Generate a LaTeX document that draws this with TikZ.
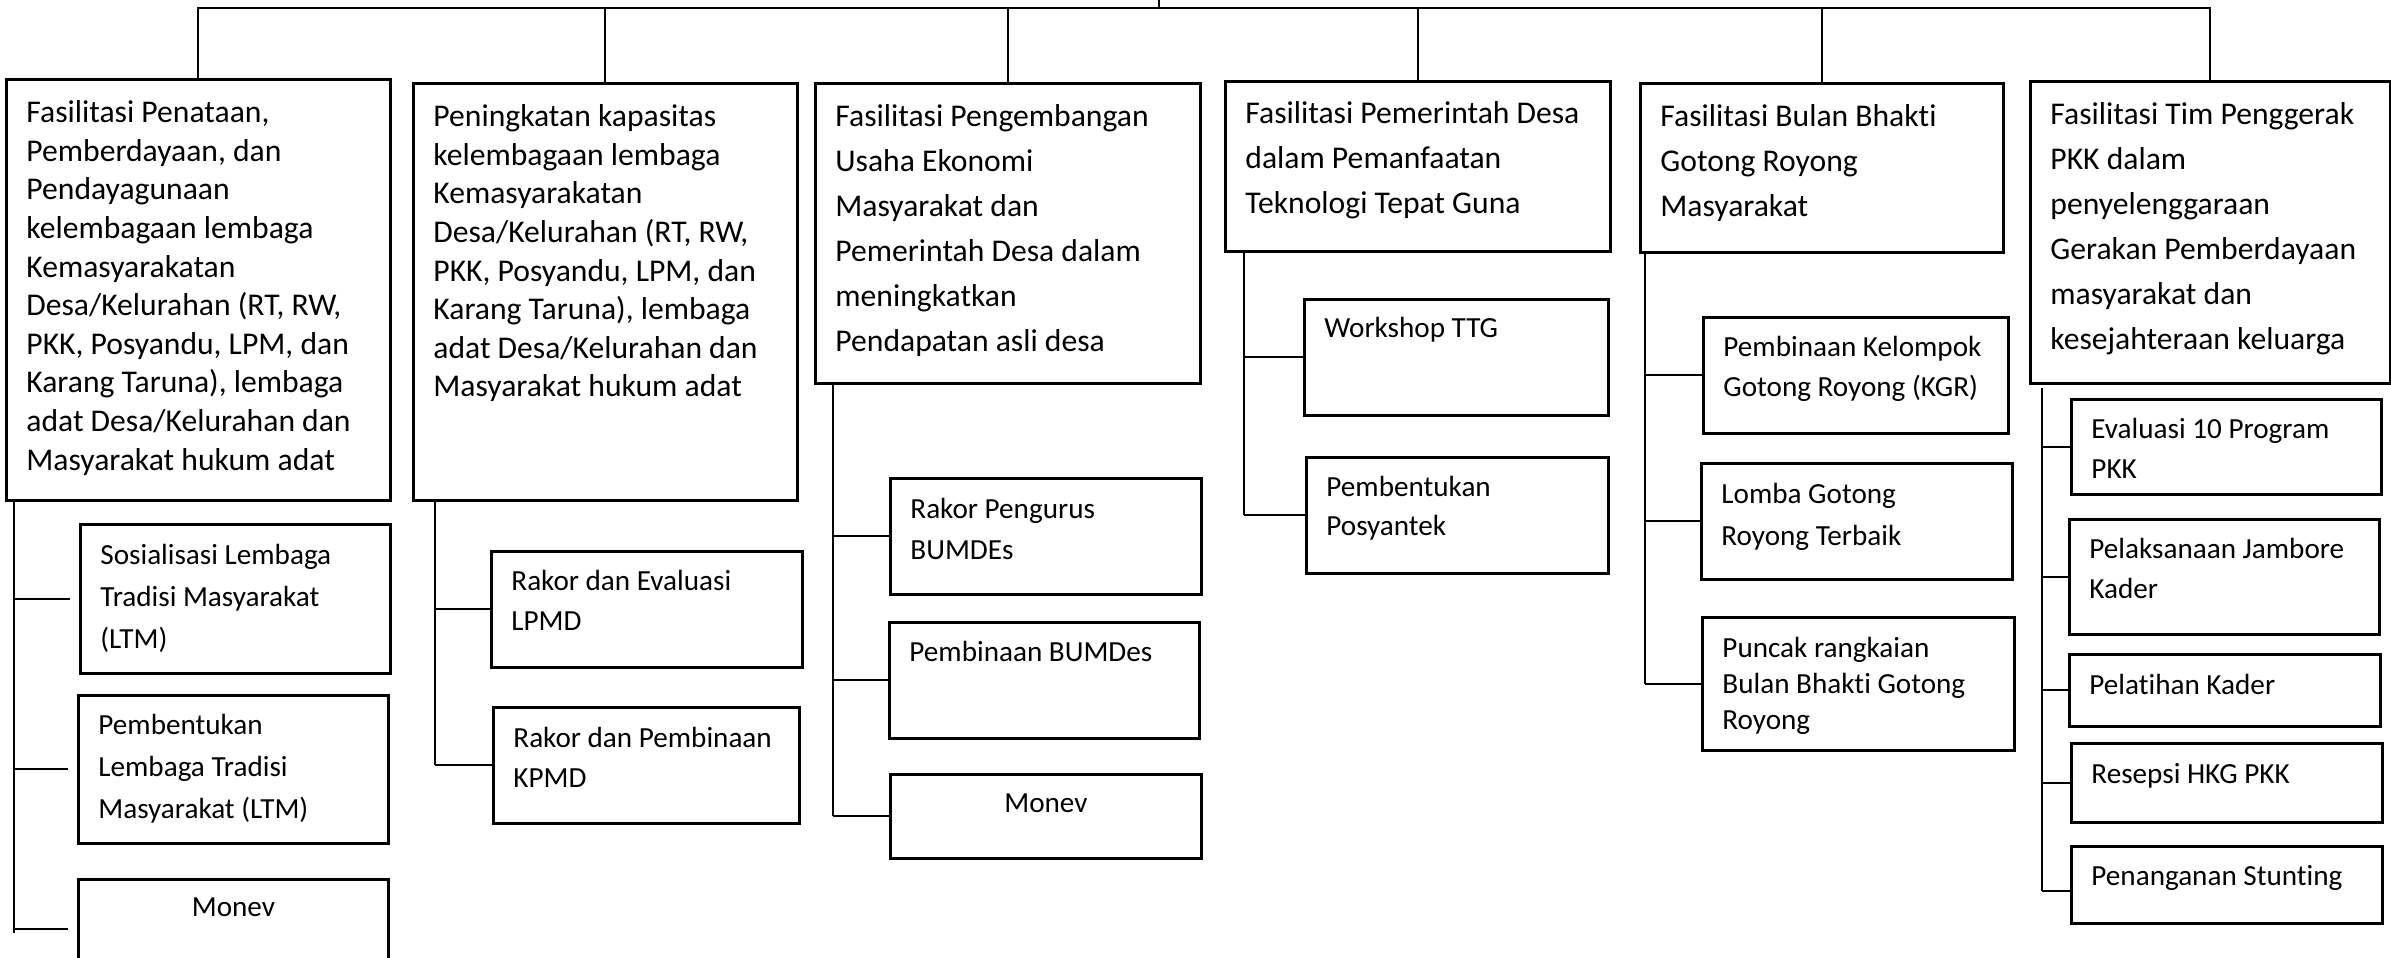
\documentclass[tikz,border=0pt]{standalone}
\usepackage{fontspec}
\setmainfont{Carlito}[Ligatures=NoCommon]
\newlength\pxl
\setlength\pxl{0.1mm}
% box of given width/height (px), top gap, text
\newcommand{\boxtext}[4]{\parbox[c][#2\pxl][t]{#1\pxl}{\raggedright\leftskip=20\pxl\vspace*{#3\pxl}#4}}
\begin{document}
\begin{tikzpicture}[x=0.1mm,y=-0.1mm,
		box/.style={draw,line width=0.8pt,anchor=north west,inner sep=0pt},
		headbox/.style={box,font=\fontsize{9}{#1}\selectfont},
		itembox/.style={box,font=\fontsize{8.3}{#1}\selectfont},
		link/.style={line width=0.6pt}]
		\useasboundingbox (0,0) rectangle (2391,958);
		\clip (0,0) rectangle (2391,958);
		% program boxes
		\node[headbox=11] (b1) at (5,78) {\boxtext{384}{421}{21}{Fasilitasi Penataan,\\Pemberdayaan, dan\\Pendayagunaan\\kelembagaan lembaga\\Kemasyarakatan\\Desa/Kelurahan (RT, RW,\\PKK, Posyandu, LPM, dan\\Karang Taruna), lembaga\\adat Desa/Kelurahan dan\\Masyarakat hukum adat}};
		\node[headbox=11] (b2) at (412,82) {\boxtext{384}{417}{21}{Peningkatan kapasitas\\kelembagaan lembaga\\Kemasyarakatan\\Desa/Kelurahan (RT, RW,\\PKK, Posyandu, LPM, dan\\Karang Taruna), lembaga\\adat Desa/Kelurahan dan\\Masyarakat hukum adat}};
		\node[headbox=12.8] (b3) at (814,82) {\boxtext{385}{300}{21}{Fasilitasi Pengembangan\\Usaha Ekonomi\\Masyarakat dan\\Pemerintah Desa dalam\\meningkatkan\\Pendapatan asli desa}};
		\node[headbox=12.8] (b4) at (1224,80) {\boxtext{385}{170}{20}{Fasilitasi Pemerintah Desa\\dalam Pemanfaatan\\Teknologi Tepat Guna}};
		\node[headbox=12.8] (b5) at (1639,82) {\boxtext{363}{169}{21}{Fasilitasi Bulan Bhakti\\Gotong Royong\\Masyarakat}};
		\node[headbox=12.8] (b6) at (2029,80) {\boxtext{360}{302}{21}{Fasilitasi Tim Penggerak\\PKK dalam\\penyelenggaraan\\Gerakan Pemberdayaan\\masyarakat dan\\kesejahteraan keluarga}};
		% activity boxes
		\node[itembox=11.9] (c11) at (79,523) {\boxtext{310}{149}{20}{Sosialisasi Lembaga\\Tradisi Masyarakat\\(LTM)}};
		\node[itembox=11.9] (c12) at (77,694) {\boxtext{310}{148}{19}{Pembentukan\\Lembaga Tradisi\\Masyarakat (LTM)}};
		\node[itembox=11.9] (c13) at (77,878) {\boxtext{310}{100}{18}{\centering Monev}};
		\node[itembox=11.4] (c21) at (490,550) {\boxtext{311}{116}{19}{Rakor dan Evaluasi\\LPMD}};
		\node[itembox=11.4] (c22) at (492,706) {\boxtext{306}{116}{20}{Rakor dan Pembinaan\\KPMD}};
		\node[itembox=11.6] (c31) at (889,477) {\boxtext{311}{116}{20}{Rakor Pengurus\\BUMDEs}};
		\node[itembox=11.6] (c32) at (888,621) {\boxtext{310}{116}{19}{Pembinaan BUMDes}};
		\node[itembox=11.6] (c33) at (889,773) {\boxtext{311}{84}{19}{\centering Monev}};
		\node[itembox=11.1] (c41) at (1303,298) {\boxtext{304}{116}{18}{Workshop TTG}};
		\node[itembox=11.1] (c42) at (1305,456) {\boxtext{302}{116}{19}{Pembentukan\\Posyantek}};
		\node[itembox=11.4] (c51) at (1702,316) {\boxtext{305}{116}{19}{Pembinaan Kelompok\\Gotong Royong (KGR)}};
		\node[itembox=11.9] (c52) at (1700,462) {\boxtext{311}{116}{20}{Lomba Gotong\\Royong Terbaik}};
		\node[itembox=10.2] (c53) at (1701,616) {\boxtext{312}{133}{20}{Puncak rangkaian\\Bulan Bhakti Gotong\\Royong}};
		\node[itembox=11.4] (c61) at (2070,398) {\boxtext{310}{95}{19}{Evaluasi 10 Program\\PKK}};
		\node[itembox=11.4] (c62) at (2068,518) {\boxtext{310}{115}{19}{Pelaksanaan Jambore\\Kader}};
		\node[itembox=11.4] (c63) at (2068,653) {\boxtext{311}{72}{20}{Pelatihan Kader}};
		\node[itembox=11.4] (c64) at (2070,742) {\boxtext{311}{79}{20}{Resepsi HKG PKK}};
		\node[itembox=11.4] (c65) at (2070,845) {\boxtext{311}{77}{19}{Penanganan Stunting}};
		% top bar
		\coordinate (root) at (1159,0);
		\coordinate (bar) at (1159,8);
		\draw[link] (root) -- (bar);
		\draw[link] (b1.north) |- (bar) -| (b6.north);
		\foreach \b in {b2,b3,b4,b5}
		\draw[link] (\b.north) -- (\b.north |- bar);
		% branches
		\coordinate (s1) at ([shift={(9,0)}]b1.south west);
		\draw[link] (s1) -- ([shift={(0,4)}]s1 |- c13.west);
		\foreach \c in {c11,c12,c13}
		\draw[link] (s1 |- \c.west) -- ([shift={(-9,0)}]\c.west);
		\coordinate (s2) at ([shift={(23,0)}]b2.south west);
		\draw[link] (s2) -- (s2 |- c22.west);
		\foreach \c in {c21,c22}
		\draw[link] (s2 |- \c.west) -- (\c.west);
		\coordinate (s3) at ([shift={(19,0)}]b3.south west);
		\draw[link] (s3) -- (s3 |- c33.west);
		\foreach \c in {c31,c32,c33}
		\draw[link] (s3 |- \c.west) -- (\c.west);
		\coordinate (s4) at ([shift={(20,0)}]b4.south west);
		\draw[link] (s4) -- (s4 |- c42.west);
		\foreach \c in {c41,c42}
		\draw[link] (s4 |- \c.west) -- (\c.west);
		\coordinate (s5) at ([shift={(6,0)}]b5.south west);
		\draw[link] (s5) -- (s5 |- c53.west);
		\foreach \c in {c51,c52,c53}
		\draw[link] (s5 |- \c.west) -- (\c.west);
		\coordinate (s6) at ([shift={(13,3)}]b6.south west);
		\draw[link] (s6) -- ([shift={(0,6)}]s6 |- c65.west);
		\foreach \c in {c61,c62,c63,c64}
		\draw[link] (s6 |- \c.west) -- (\c.west);
		\draw[link] ([shift={(0,6)}]s6 |- c65.west) -- ([shift={(0,6)}]c65.west);
	\end{tikzpicture}
\end{document}
